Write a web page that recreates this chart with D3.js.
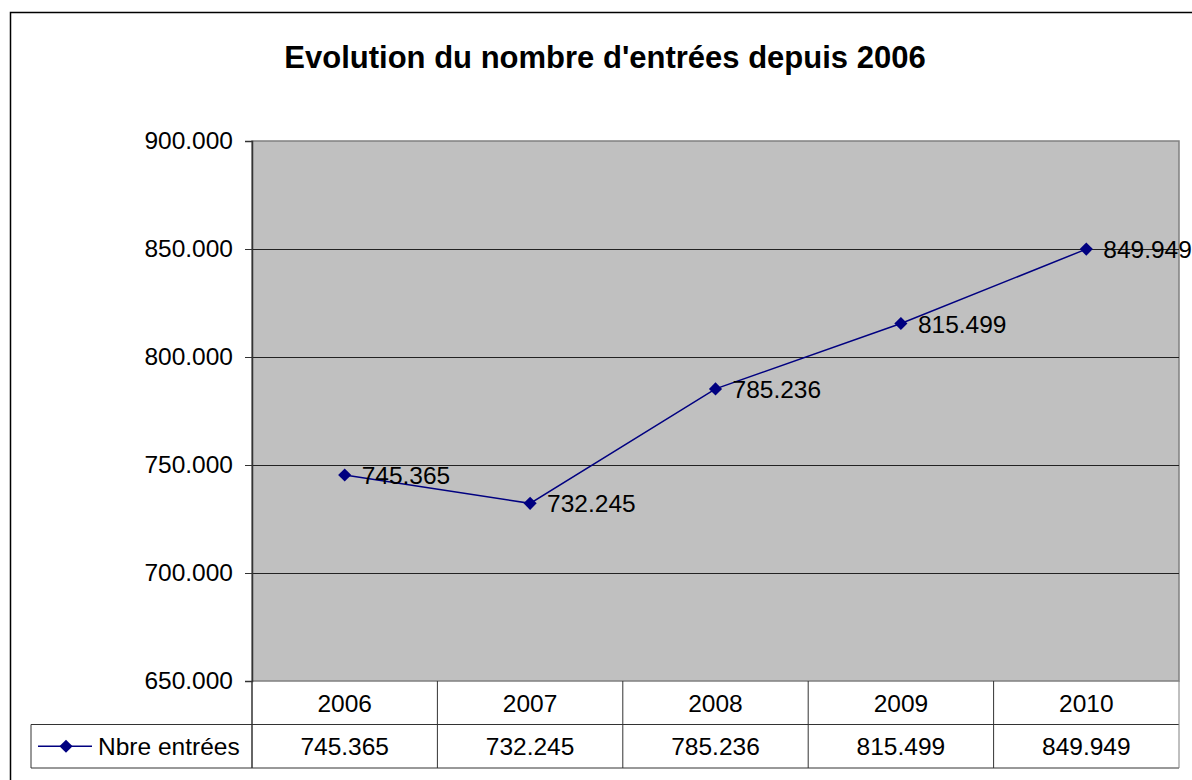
<!DOCTYPE html>
<html>
<head>
<meta charset="utf-8">
<script src="https://cdn.jsdelivr.net/npm/d3@7"></script>
<style>
  body { margin: 0; background: #fff; }
  text { font-family: "Liberation Sans", Arial, sans-serif; fill: #000; }
</style>
</head>
<body>
<div id="chart"></div>
<script>
const years = ['2006', '2007', '2008', '2009', '2010']
const entries = [745365, 732245, 785236, 815499, 849949]
const yTicks = [650000, 700000, 750000, 800000, 850000, 900000]
const seriesName = 'Nbre entrées'
const title = "Evolution du nombre d'entrées depuis 2006"

const margin = { top: 141, right: 13, bottom: 99, left: 252 }
const W = 1192
const H = 780
const width = W - margin.left - margin.right
const height = H - margin.top - margin.bottom
const fontSize = 24.5

// dots as thousand separators, like the original sheet
const fmt = d3.formatLocale({ decimal: ',', thousands: '.', grouping: [3], currency: ['', '€'] }).format(',d')

const root = d3.select('#chart')
  .append('svg')
  .attr('width', W)
  .attr('height', H)

// outer chart border
root.append('rect')
  .attr('x', 10.5)
  .attr('y', 12.5)
  .attr('width', 1300)
  .attr('height', 900)
  .attr('fill', 'none')
  .attr('stroke', '#000')
  .attr('stroke-width', 1.5)

root.append('text')
  .attr('x', 605)
  .attr('y', 68)
  .attr('text-anchor', 'middle')
  .attr('font-size', 31)
  .attr('font-weight', 'bold')
  .text(title)

const svg = root.append('g')
  .attr('transform', 'translate(' + margin.left + ',' + margin.top + ')')

const x = d3.scaleBand()
  .domain(years)
  .range([0, width])

const y = d3.scaleLinear()
  .domain([650000, 900000])
  .range([height, 0])

// plot area
svg.append('rect')
  .attr('width', width)
  .attr('height', height)
  .attr('fill', '#c0c0c0')
  .attr('stroke', '#808080')
  .attr('stroke-width', 1.5)

// gridlines
svg.selectAll('.grid')
  .data(yTicks.slice(1, -1))
  .enter()
  .append('line')
  .attr('class', 'grid')
  .attr('x1', 0)
  .attr('x2', width)
  .attr('y1', d => Math.round(y(d)) + 0.5)
  .attr('y2', d => Math.round(y(d)) + 0.5)
  .attr('stroke', '#222')
  .attr('stroke-width', 1)

// y axis
const yAxis = d3.axisLeft(y)
  .tickValues(yTicks)
  .tickFormat(fmt)
  .tickSize(7)
  .tickPadding(12)

svg.append('g')
  .attr('class', 'axis y-axis')
  .call(yAxis)
  .call(g => g.select('.domain').attr('stroke', '#333').attr('stroke-width', 1.5))
  .call(g => g.selectAll('.tick line').attr('stroke', '#333'))
  .call(g => g.selectAll('.tick text')
    .attr('font-size', fontSize)
    .attr('font-family', '"Liberation Sans", Arial, sans-serif')
    .attr('fill', '#000'))

// data table below the plot
const rowH = 43.5
const legendLeft = 31 - margin.left
const table = svg.append('g').attr('transform', 'translate(0,' + height + ')')

table.append('line')
  .attr('x1', legendLeft).attr('x2', width)
  .attr('y1', rowH).attr('y2', rowH)
  .attr('stroke', '#333')
table.append('line')
  .attr('x1', legendLeft).attr('x2', width)
  .attr('y1', rowH * 2).attr('y2', rowH * 2)
  .attr('stroke', '#333')
table.append('line')
  .attr('x1', legendLeft).attr('x2', legendLeft)
  .attr('y1', rowH).attr('y2', rowH * 2)
  .attr('stroke', '#333')

table.selectAll('.col-line')
  .data(years.concat(['end']))
  .enter()
  .append('line')
  .attr('class', 'col-line')
  .attr('x1', (d, i) => i < years.length ? x(d) : width)
  .attr('x2', (d, i) => i < years.length ? x(d) : width)
  .attr('y1', 0)
  .attr('y2', rowH * 2)
  .attr('stroke', (d, i) => i === years.length ? '#808080' : '#333')
  .attr('stroke-width', (d, i) => i === 0 ? 1.5 : 1)

table.selectAll('.year-label')
  .data(years)
  .enter()
  .append('text')
  .attr('class', 'year-label')
  .attr('x', d => x(d) + x.bandwidth() / 2)
  .attr('y', rowH / 2 + 9)
  .attr('text-anchor', 'middle')
  .attr('font-size', fontSize)
  .text(d => d)

table.selectAll('.value-label')
  .data(entries)
  .enter()
  .append('text')
  .attr('class', 'value-label')
  .attr('x', (d, i) => x(years[i]) + x.bandwidth() / 2)
  .attr('y', rowH * 1.5 + 9)
  .attr('text-anchor', 'middle')
  .attr('font-size', fontSize)
  .text(d => fmt(d))

// legend key in table
const diamond = d3.symbol().type(d3.symbolDiamond2).size(110)
table.append('line')
  .attr('x1', legendLeft + 7).attr('x2', legendLeft + 61)
  .attr('y1', rowH * 1.5).attr('y2', rowH * 1.5)
  .attr('stroke', '#000080')
  .attr('stroke-width', 1.5)
table.append('path')
  .attr('d', diamond)
  .attr('transform', 'translate(' + (legendLeft + 35) + ',' + (rowH * 1.5) + ')')
  .attr('fill', '#000080')
table.append('text')
  .attr('x', legendLeft + 67)
  .attr('y', rowH * 1.5 + 9)
  .attr('font-size', fontSize)
  .text(seriesName)

// series line
const line = d3.line()
  .x((d, i) => x(years[i]) + x.bandwidth() / 2)
  .y(d => y(d))

svg.append('path')
  .datum(entries)
  .attr('d', line)
  .attr('fill', 'none')
  .attr('stroke', '#000080')
  .attr('stroke-width', 1.5)

svg.selectAll('.point')
  .data(entries)
  .enter()
  .append('path')
  .attr('class', 'point')
  .attr('d', diamond)
  .attr('transform', (d, i) => 'translate(' + (x(years[i]) + x.bandwidth() / 2) + ',' + y(d) + ')')
  .attr('fill', '#000080')

svg.selectAll('.data-label')
  .data(entries)
  .enter()
  .append('text')
  .attr('class', 'data-label')
  .attr('x', (d, i) => x(years[i]) + x.bandwidth() / 2 + 17)
  .attr('y', d => y(d) + 9)
  .attr('font-size', fontSize)
  .text(d => fmt(d))
</script>
</body>
</html>
